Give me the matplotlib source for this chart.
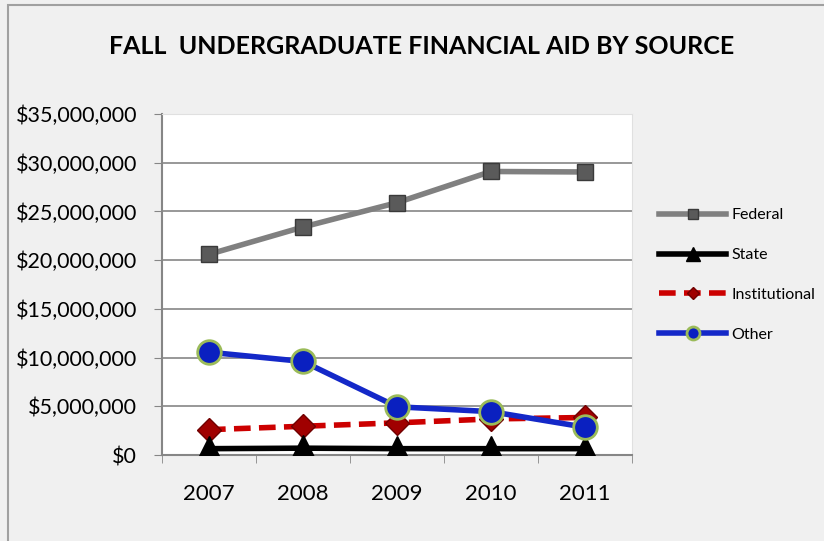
import numpy as np
import matplotlib.pyplot as plt
from matplotlib.patches import Rectangle
from matplotlib.ticker import FuncFormatter

# data
years = ['2007', '2008', '2009', '2010', '2011']
federal = [20.6e6, 23.4e6, 25.9e6, 29.1e6, 29.05e6]
state = [0.65e6, 0.7e6, 0.65e6, 0.65e6, 0.65e6]
institutional = [2.6e6, 2.95e6, 3.3e6, 3.7e6, 3.85e6]
other = [10.55e6, 9.6e6, 4.95e6, 4.45e6, 2.85e6]

plt.rcParams['font.family'] = ['Lato', 'DejaVu Sans']

fig = plt.figure(figsize=(8.24, 5.41), dpi=100)
fig.patch.set_facecolor('#f0f0f0')

# chart frame (only left / top edges visible)
fig.patches.append(Rectangle((8/824, -0.05), 1.1, 1.05 - 5/541, transform=fig.transFigure,
                             facecolor='none', edgecolor='#a0a0a0', linewidth=1.5))

ax = fig.add_axes([162/824, 1 - 455/541, 470/824, 341/541])
ax.set_facecolor('white')

x = np.arange(len(years))
ax.plot(x, federal, color='#808080', lw=4, marker='s', ms=12,
        mfc='#5a5a5a', mec='#3a3a3a', label='Federal', zorder=3)
ax.plot(x, state, color='black', lw=4, marker='^', ms=19,
        mfc='black', mec='black', label='State', zorder=5)
ax.plot(x, institutional, color='#cc0000', lw=4, ls=(0, (3, 1.5)), marker='D', ms=12,
        mfc='#a00000', mec='#700000', label='Institutional', zorder=4)
ax.plot(x, other, color='#1428c8', lw=4, marker='o', ms=17,
        mfc='#0a20c0', mec='#9bbb59', mew=2, label='Other', zorder=6)

ax.set_xlim(-0.5, len(years) - 0.5)
ax.set_ylim(0, 35e6)
ax.set_yticks(np.arange(0, 35e6 + 1, 5e6))
ax.yaxis.set_major_formatter(FuncFormatter(lambda v, p: '${:,.0f}'.format(v)))
ax.set_xticks(x)
ax.set_xticklabels(years)
ax.set_xticks(np.arange(-0.5, len(years), 1), minor=True)
ax.tick_params(axis='x', which='major', length=0, pad=21, labelsize=16)
ax.tick_params(axis='x', which='minor', length=6, color='#868686')
ax.tick_params(axis='y', length=6, color='#868686', labelsize=15.5, pad=12)
ax.grid(axis='y', color='#868686', lw=1.2)
ax.set_axisbelow(True)
for s in ['left', 'bottom']:
    ax.spines[s].set_color('#868686')
    ax.spines[s].set_linewidth(1.5)
for s in ['top', 'right']:
    ax.spines[s].set_color('#e0e0e0')

fig.text(0.512, 1 - 46/541, 'FALL  UNDERGRADUATE FINANCIAL AID BY SOURCE',
         ha='center', va='center', fontsize=18, fontweight='bold')

handles, labels = ax.get_legend_handles_labels()
leg = fig.legend(handles, labels, loc='center left', bbox_to_anchor=(645/824, 1 - 275/541),
                 frameon=False, fontsize=11.5, handlelength=4.2, labelspacing=1.6,
                 handletextpad=0.3, markerscale=0.55)

fig.savefig('out.png', dpi=100, facecolor=fig.get_facecolor())
